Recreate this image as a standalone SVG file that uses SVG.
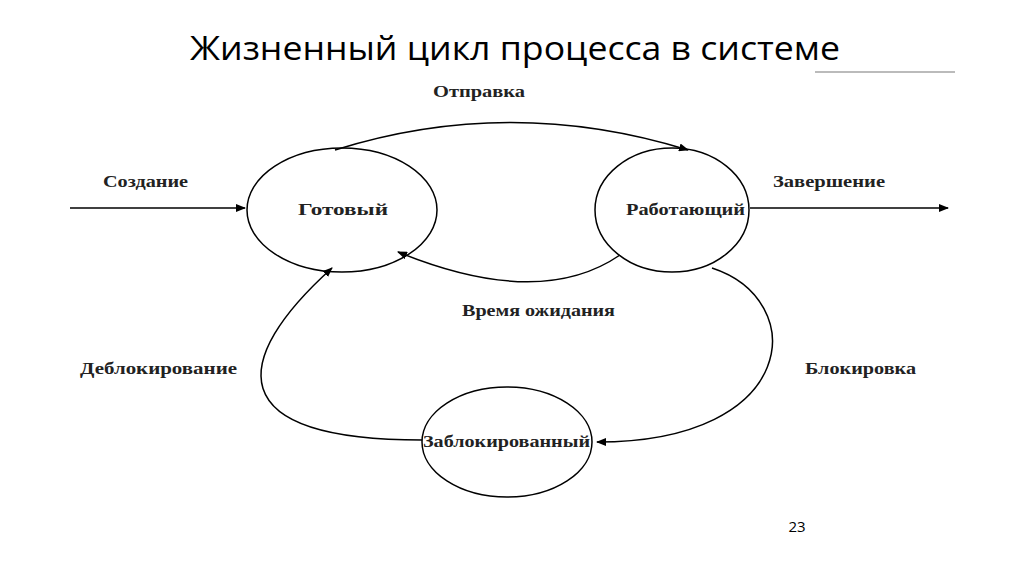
<svg xmlns="http://www.w3.org/2000/svg" width="1024" height="574" viewBox="0 0 1024 574">
<defs><marker id="a" markerWidth="10" markerHeight="8" refX="9" refY="4" orient="auto" markerUnits="userSpaceOnUse"><path d="M0,0 L10,4 L0,8 Z" fill="#000"/></marker></defs>
<style>.n{fill:#fff;stroke:#000;stroke-width:1.5}.l{font-family:"Liberation Serif",serif;font-weight:bold;font-size:16px;fill:#222}.c{fill:none;stroke:#000;stroke-width:1.5;marker-end:url(#a)}</style>
<rect width="1024" height="574" fill="#fff"/>
<text x="190" y="60" textLength="650" lengthAdjust="spacingAndGlyphs" font-family="Open Sans,Liberation Sans,sans-serif" font-size="32" fill="#000">Жизненный цикл процесса в системе</text>
<line x1="815" y1="72" x2="955" y2="72" stroke="#bbb" stroke-width="2"/>
<g id="ready"><ellipse class="n" cx="342" cy="210" rx="95" ry="62"/><text class="l" x="298" y="215" textLength="90" lengthAdjust="spacingAndGlyphs">Готовый</text></g>
<g id="running"><ellipse class="n" cx="672" cy="210" rx="77" ry="62"/><text class="l" x="626" y="215" textLength="119" lengthAdjust="spacingAndGlyphs">Работающий</text></g>
<g id="blocked"><ellipse class="n" cx="507" cy="442" rx="85" ry="55"/><text class="l" x="423" y="447" textLength="167" lengthAdjust="spacingAndGlyphs">Заблокированный</text></g>
<g id="connectors">
<path class="c" d="M70,208 L245,208"/>
<path class="c" d="M750,208 L948,208"/>
<path class="c" d="M335,150 Q510,95 688,150"/>
<path class="c" d="M620,255 Q540,310 398,252"/>
<path class="c" d="M712,268 C810,300 800,442 597,442"/>
<path class="c" d="M422,440 C220,440 230,360 332,268"/>
</g>
<text class="l" x="433" y="97" textLength="92" lengthAdjust="spacingAndGlyphs">Отправка</text>
<text class="l" x="103" y="187" textLength="85" lengthAdjust="spacingAndGlyphs">Создание</text>
<text class="l" x="773" y="187" textLength="112" lengthAdjust="spacingAndGlyphs">Завершение</text>
<text class="l" x="462" y="316" textLength="153" lengthAdjust="spacingAndGlyphs">Время ожидания</text>
<text class="l" x="80" y="374" textLength="157" lengthAdjust="spacingAndGlyphs">Деблокирование</text>
<text class="l" x="805" y="374" textLength="111" lengthAdjust="spacingAndGlyphs">Блокировка</text>
<text x="797" y="532" font-family="Open Sans,Liberation Sans,sans-serif" font-size="15" text-anchor="middle">23</text>
</svg>
